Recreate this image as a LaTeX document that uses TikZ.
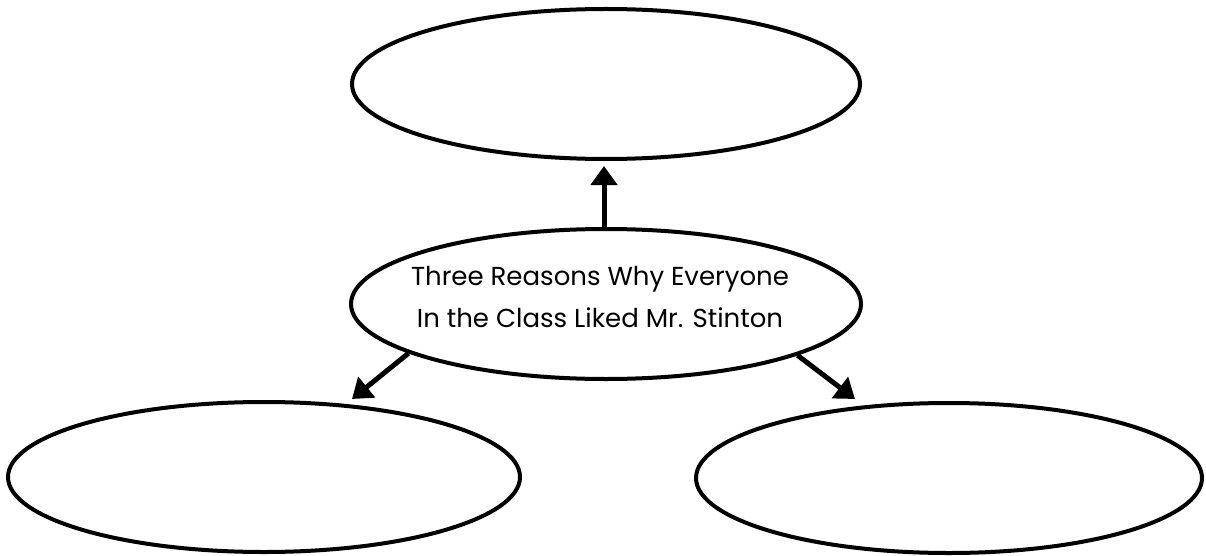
\documentclass[tikz,border=0pt]{standalone}
\usepackage{fontspec}
\setmainfont{Poppins}
\usetikzlibrary{shapes.geometric,arrows.meta}
\tikzset{
  oval/.style={draw=black, line width=4pt, ellipse, inner sep=0pt},
  arr/.style={draw=black, line width=5pt, -{Triangle[width=26pt,length=19pt]}}
}
\begin{document}
\begin{tikzpicture}[x=1pt,y=-1pt]
\useasboundingbox[fill=white] (0,0) rectangle (1206,556);
\node[oval, minimum width=508pt, minimum height=150pt] (t) at (606,84) {};
\node[oval, minimum width=510pt, minimum height=150pt] (c) at (606,304) {};
\node[align=center, font=\fontsize{26pt}{42pt}\selectfont, inner sep=0pt] (ct) at (600,297)
      {Three Reasons Why Everyone\\In the Class Liked Mr. Stinton};
\node[oval, minimum width=512pt, minimum height=150pt] (l) at (264,477) {};
\node[oval, minimum width=506pt, minimum height=150pt] (r) at (949,478) {};
\coordinate (tipT) at (604,166);
\coordinate (tipL) at (352,399);
\coordinate (tipR) at (855,399);
\draw[arr] (c.north) ++(-2pt,0) -- (tipT);
\draw[arr] (c.194.7) -- (tipL);
\draw[arr] (c.345) -- (tipR);
\end{tikzpicture}
\end{document}
